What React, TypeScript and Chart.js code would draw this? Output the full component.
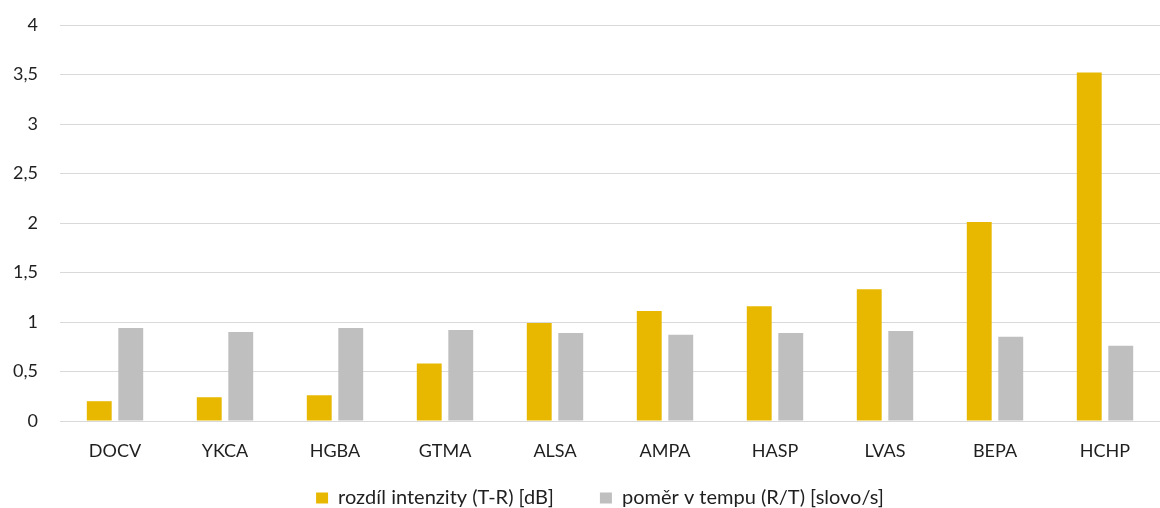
import { useEffect, useRef } from "react";
import { Chart, registerables } from "chart.js";

Chart.register(...registerables);

// Speakers (categories on the x axis)
const categories = ["DOCV", "YKCA", "HGBA", "GTMA", "ALSA", "AMPA", "HASP", "LVAS", "BEPA", "HCHP"];

// rozdíl intenzity (T-R) [dB]
const intensityDiff = [0.2, 0.24, 0.26, 0.58, 0.99, 1.11, 1.16, 1.33, 2.01, 3.52];

// poměr v tempu (R/T) [slovo/s]
const tempoRatio = [0.94, 0.9, 0.94, 0.92, 0.89, 0.87, 0.89, 0.91, 0.85, 0.76];

const seriesLabels = ["rozdíl intenzity (T-R) [dB]", "poměr v tempu (R/T) [slovo/s]"];

// value axis: 0 … 4 in steps of 0,5
const yMin = 0;
const yMax = 4;
const yStep = 0.5;

const FONT = "Lato, Carlito, 'Open Sans', sans-serif";
const TEXT = "#1f1f1f";
const GRID = "#d9d9d9";
const GOLD = "#e8b800";
const GREY = "#bfbfbf";

// Keeps the legend to a fixed band under the axis and places its row.
const legendFrame = {
  id: "legendFrame",
  beforeLayout(chart: any) {
    const lg = chart.legend;
    if (lg && !lg.__framed) {
      const fit = lg.fit.bind(lg);
      lg.fit = () => {
        fit();
        lg.height = 45;
      };
      lg.__framed = true;
    }
  },
  afterLayout(chart: any) {
    const lg = chart.legend;
    if (lg) {
      lg.left += 20;
      lg.right += 20;
      lg.top = 442;
      lg.bottom = chart.height;
      lg.height = lg.bottom - lg.top;
    }
  },
};

export default function App() {
  const canvasRef = useRef<HTMLCanvasElement | null>(null);

  useEffect(() => {
    const canvas = canvasRef.current;
    if (!canvas) return;

    const chart = new Chart(canvas, {
      type: "bar",
      data: {
        labels: categories,
        datasets: [
          {
            label: seriesLabels[0],
            data: intensityDiff,
            backgroundColor: GOLD,
            borderWidth: 0,
            categoryPercentage: 0.573,
            barPercentage: 0.79,
          },
          {
            label: seriesLabels[1],
            data: tempoRatio,
            backgroundColor: GREY,
            borderWidth: 0,
            categoryPercentage: 0.573,
            barPercentage: 0.79,
          },
        ],
      },
      options: {
        responsive: false,
        animation: false,
        devicePixelRatio: 1,
        layout: { padding: { top: 25, right: 0, bottom: 0, left: 0 } },
        plugins: {
          tooltip: { enabled: false },
          legend: {
            position: "bottom",
            labels: {
              boxWidth: 12,
              boxHeight: 11,
              padding: 46,
              color: TEXT,
              font: { family: FONT, size: 20 },
            },
          },
        },
        scales: {
          x: {
            grid: { display: false, drawTicks: false },
            border: { display: true, color: GRID, width: 1 },
            ticks: {
              color: TEXT,
              padding: 19,
              font: { family: FONT, size: 18 },
              maxRotation: 0,
            },
            afterFit(scale: any) {
              scale.height = 42;
            },
          },
          y: {
            min: yMin,
            max: yMax,
            grid: { color: GRID, lineWidth: 1, drawTicks: false },
            border: { display: false },
            ticks: {
              stepSize: yStep,
              color: TEXT,
              padding: 22,
              font: { family: FONT, size: 18 },
              callback: (v: any) => String(v).replace(".", ","),
            },
            afterFit(scale: any) {
              scale.width = 60;
              scale.paddingTop = 0;
              scale.paddingBottom = 0;
            },
          },
        },
      },
      plugins: [legendFrame],
    });

    return () => chart.destroy();
  }, []);

  return (
    <div style={{ position: "fixed", left: 0, top: 0, width: 1160, height: 508, background: "#fff" }}>
      <canvas ref={canvasRef} width={1160} height={508} />
    </div>
  );
}
